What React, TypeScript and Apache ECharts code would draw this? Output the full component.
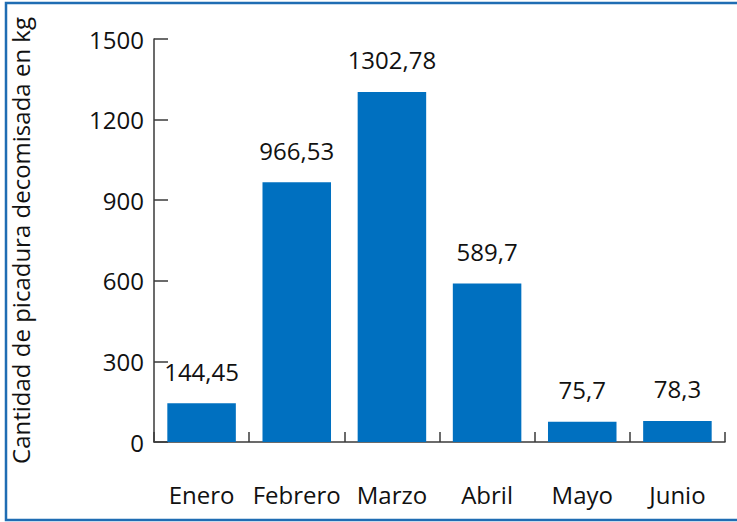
import React, { useEffect, useRef } from "react";
import * as echarts from "echarts";

const categories = ["Enero", "Febrero", "Marzo", "Abril", "Mayo", "Junio"];
const values = [144.45, 966.53, 1302.78, 589.7, 75.7, 78.3];
const valueLabels = ["144,45", "966,53", "1302,78", "589,7", "75,7", "78,3"];
const yTicks = [0, 300, 600, 900, 1200, 1500];
const yAxisTitle = "Cantidad de picadura decomisada en kg";

const FONT = "'Open Sans', sans-serif";

export default function App() {
  const ref = useRef<HTMLDivElement>(null);
  useEffect(() => {
    if (!ref.current) return;
    const chart = echarts.init(ref.current, undefined, { renderer: "svg" });
    chart.setOption({
      animation: false,
      backgroundColor: "#ffffff",
      textStyle: { fontFamily: FONT },
      grid: { left: 154, right: 12, top: 39, bottom: 80 },
      graphic: [
        {
          type: "rect",
          shape: { x: 6, y: 3, width: 760, height: 517 },
          style: { fill: "none", stroke: "#1f6db3", lineWidth: 2.5 },
          z: 100,
        },
      ],
      xAxis: {
        type: "category",
        data: categories,
        axisLine: { lineStyle: { color: "#3a3a3a", width: 1.5 } },
        axisTick: { show: true, inside: true, length: 10, lineStyle: { color: "#3a3a3a", width: 1.5 } },
        axisLabel: { color: "#111", fontSize: 24, fontFamily: FONT, margin: 40, interval: 0 },
      },
      yAxis: {
        type: "value",
        min: yTicks[0],
        max: yTicks[yTicks.length - 1],
        interval: 300,
        name: yAxisTitle,
        nameLocation: "middle",
        nameGap: 122,
        nameTextStyle: { color: "#111", fontSize: 24, fontFamily: FONT },
        axisLine: { show: true, lineStyle: { color: "#3a3a3a", width: 1.5 } },
        axisTick: { show: true, inside: true, length: 14, lineStyle: { color: "#3a3a3a", width: 1.5 } },
        axisLabel: {
          color: "#111",
          fontSize: 24,
          fontFamily: FONT,
          margin: 10,
          formatter: (v: number) => String(v),
        },
        splitLine: { show: false },
      },
      series: [
        {
          type: "bar",
          data: values,
          barWidth: "72%",
          itemStyle: { color: "#0070c0" },
          label: {
            show: true,
            position: "top",
            distance: 20,
            color: "#111",
            fontSize: 24,
            fontFamily: FONT,
            formatter: (p: any) => valueLabels[p.dataIndex],
          },
        },
      ],
    });
    return () => chart.dispose();
  }, []);
  return (
    <div
      ref={ref}
      style={{ position: "fixed", left: 0, top: 0, width: 737, height: 522 }}
    />
  );
}
